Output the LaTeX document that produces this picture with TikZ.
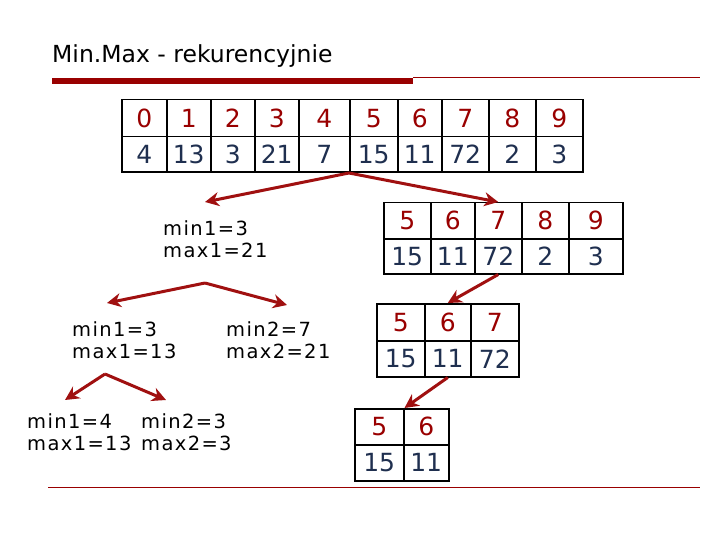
\documentclass[tikz,border=0pt]{standalone}
\usepackage{fontspec}
\setmainfont{DejaVu Sans}
\newfontfamily\lblfont[LetterSpace=7]{DejaVu Sans}
\usetikzlibrary{arrows.meta}
\definecolor{idx}{HTML}{990000}
\definecolor{val}{HTML}{1F2F4F}
\definecolor{arr}{HTML}{A01010}
\begin{document}
\begin{tikzpicture}[x=1pt,y=-1pt,
  cell/.style={draw=black,line width=1.5pt,inner sep=0pt,font=\fontsize{25}{25}\selectfont},
  lbl/.style={anchor=west,inner sep=0pt,align=left,font=\lblfont\fontsize{19.5}{22}\selectfont},
  arrow/.style={draw=arr,line width=3pt,-{Stealth[length=14pt,width=14pt]}}]
\useasboundingbox (0,0) rectangle (720,540);
\node[anchor=base west,inner sep=0pt,font=\fontsize{23.5}{23.5}\selectfont] (title) at (52,63) {Min.Max - rekurencyjnie};
\fill[idx] (52,78) rectangle (413,84);
\draw[idx,line width=0.7pt] (413,77) -- (700,77);
\draw[idx,line width=0.7pt] (48,487) -- (700,487);
\newcommand\arrrow[5]{%
  \foreach \xa/\xb/\i/\v in {#5}{%
    \node[cell,text=idx,minimum width=\xb-\xa,minimum height=#3-#2,anchor=north west] (#1\i t) at (\xa,#2) {\i};
    \node[cell,text=val,minimum width=\xb-\xa,minimum height=#4-#3,anchor=north west] (#1\i b) at (\xa,#3) {\v};
  }}
\arrrow{A}{99}{136}{171.5}{121/166/0/4,166/210/1/13,210/254/2/3,254/298/3/21,298/349/4/7,349/397/5/15,397/441/6/11,441/488/7/72,488/535/8/2,535/582/9/3}
\arrrow{B}{202}{238}{273}{383/430/5/15,430/474/6/11,474/521/7/72,521/568/8/2,568/622/9/3}
\arrrow{C}{303}{340}{376}{376/424/5/15,424/470/6/11,470/518/7/72}
\arrrow{D}{408}{444}{480}{354/403/5/15,403/448/6/11}
\node[lbl] (l1) at (163,239) {min1=3\\max1=21};
\node[lbl] (l2) at (72,340) {min1=3\\max1=13};
\node[lbl] (l3) at (226,340) {min2=7\\max2=21};
\node[lbl] (l4) at (27,432) {min1=4\\max1=13};
\node[lbl] (l5) at (141,432) {min2=3\\max2=3};
\coordinate (p1) at (205,202);
\coordinate (q1) at (205,283);
\coordinate (p2) at (107,303);
\coordinate (p3) at (287,305);
\coordinate (q2) at (105,374);
\coordinate (p4) at (65,400);
\coordinate (p5) at (166,400);
\draw[arrow] (A5b.south west) -- (p1);
\draw[arrow] (A5b.south west) -- (B7t.north);
\draw[arrow] (q1) -- (p2);
\draw[arrow] (q1) -- (p3);
\draw[arrow] (q2) -- (p4);
\draw[arrow] (q2) -- (p5);
\draw[arrow] (B7b.south) -- (C6t.north);
\draw[arrow] (C6b.south) -- (D5t.north east);
\end{tikzpicture}
\end{document}
